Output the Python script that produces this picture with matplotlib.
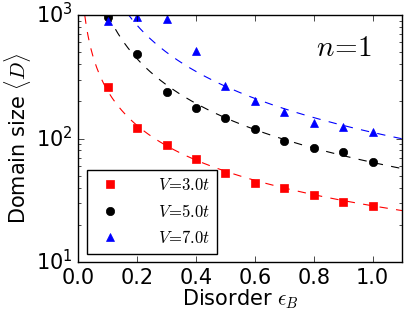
import numpy as np
import matplotlib
matplotlib.use("Agg")
import matplotlib.pyplot as plt

plt.style.use('classic')
plt.rcParams['mathtext.fontset'] = 'cm'

# Disorder values
eps = [0.1, 0.2, 0.3, 0.4, 0.5, 0.6, 0.7, 0.8, 0.9, 1.0]

# Domain sizes
d_v3 = [263, 122, 88.5, 68, 53, 44, 39.5, 34.7, 30.8, 28.4]
d_v5 = [960, 481, 239, 175, 146, 119, 95, 83, 78, 64.6]
d_v7 = [894, 960, 928, 514, 266, 201, 164, 134, 125, 113]

# power-law fits D = a * eps^-p
fit_amp = [28.5, 64.0, 112.0]
fit_exp = [0.93, 1.20, 1.24]

labels = [r'$V\!=\!3.0t$', r'$V\!=\!5.0t$', r'$V\!=\!7.0t$']
colors = ['red', 'black', 'blue']
markers = ['s', 'o', '^']

fig = plt.figure(figsize=(4.07, 3.13), dpi=100, facecolor='white')
ax = fig.add_axes([0.1924, 0.163, 0.7953, 0.789])

xfit = np.linspace(0.005, 1.1, 400)
for data, a, p, lab, c, m in zip([d_v3, d_v5, d_v7], fit_amp, fit_exp, labels, colors, markers):
    ax.plot(xfit, a * xfit ** (-p), '--', color=c, lw=0.8)
    ax.plot(eps, data, m, color=c, mec=c, ms=6, label=lab, linestyle='none')

ax.set_yscale('log')
ax.set_xlim(0.0, 1.1)
ax.set_ylim(10, 1000)
ax.set_xticks([0.0, 0.2, 0.4, 0.6, 0.8, 1.0])
ax.tick_params(labelsize=15)
ax.set_xlabel(r'Disorder $\epsilon_B$', fontsize=15, labelpad=0)
ax.set_ylabel(r'Domain size $\langle D\rangle$', fontsize=15, labelpad=2)

ax.text(0.82, 0.866, r'$n\!=\!1$', transform=ax.transAxes, fontsize=21,
        ha='center', va='center')

leg = ax.legend(loc='lower left', numpoints=1, fontsize=12, frameon=True,
                borderaxespad=0.5, handletextpad=1.9)

fig.savefig('out.png', dpi=100, facecolor='white')
